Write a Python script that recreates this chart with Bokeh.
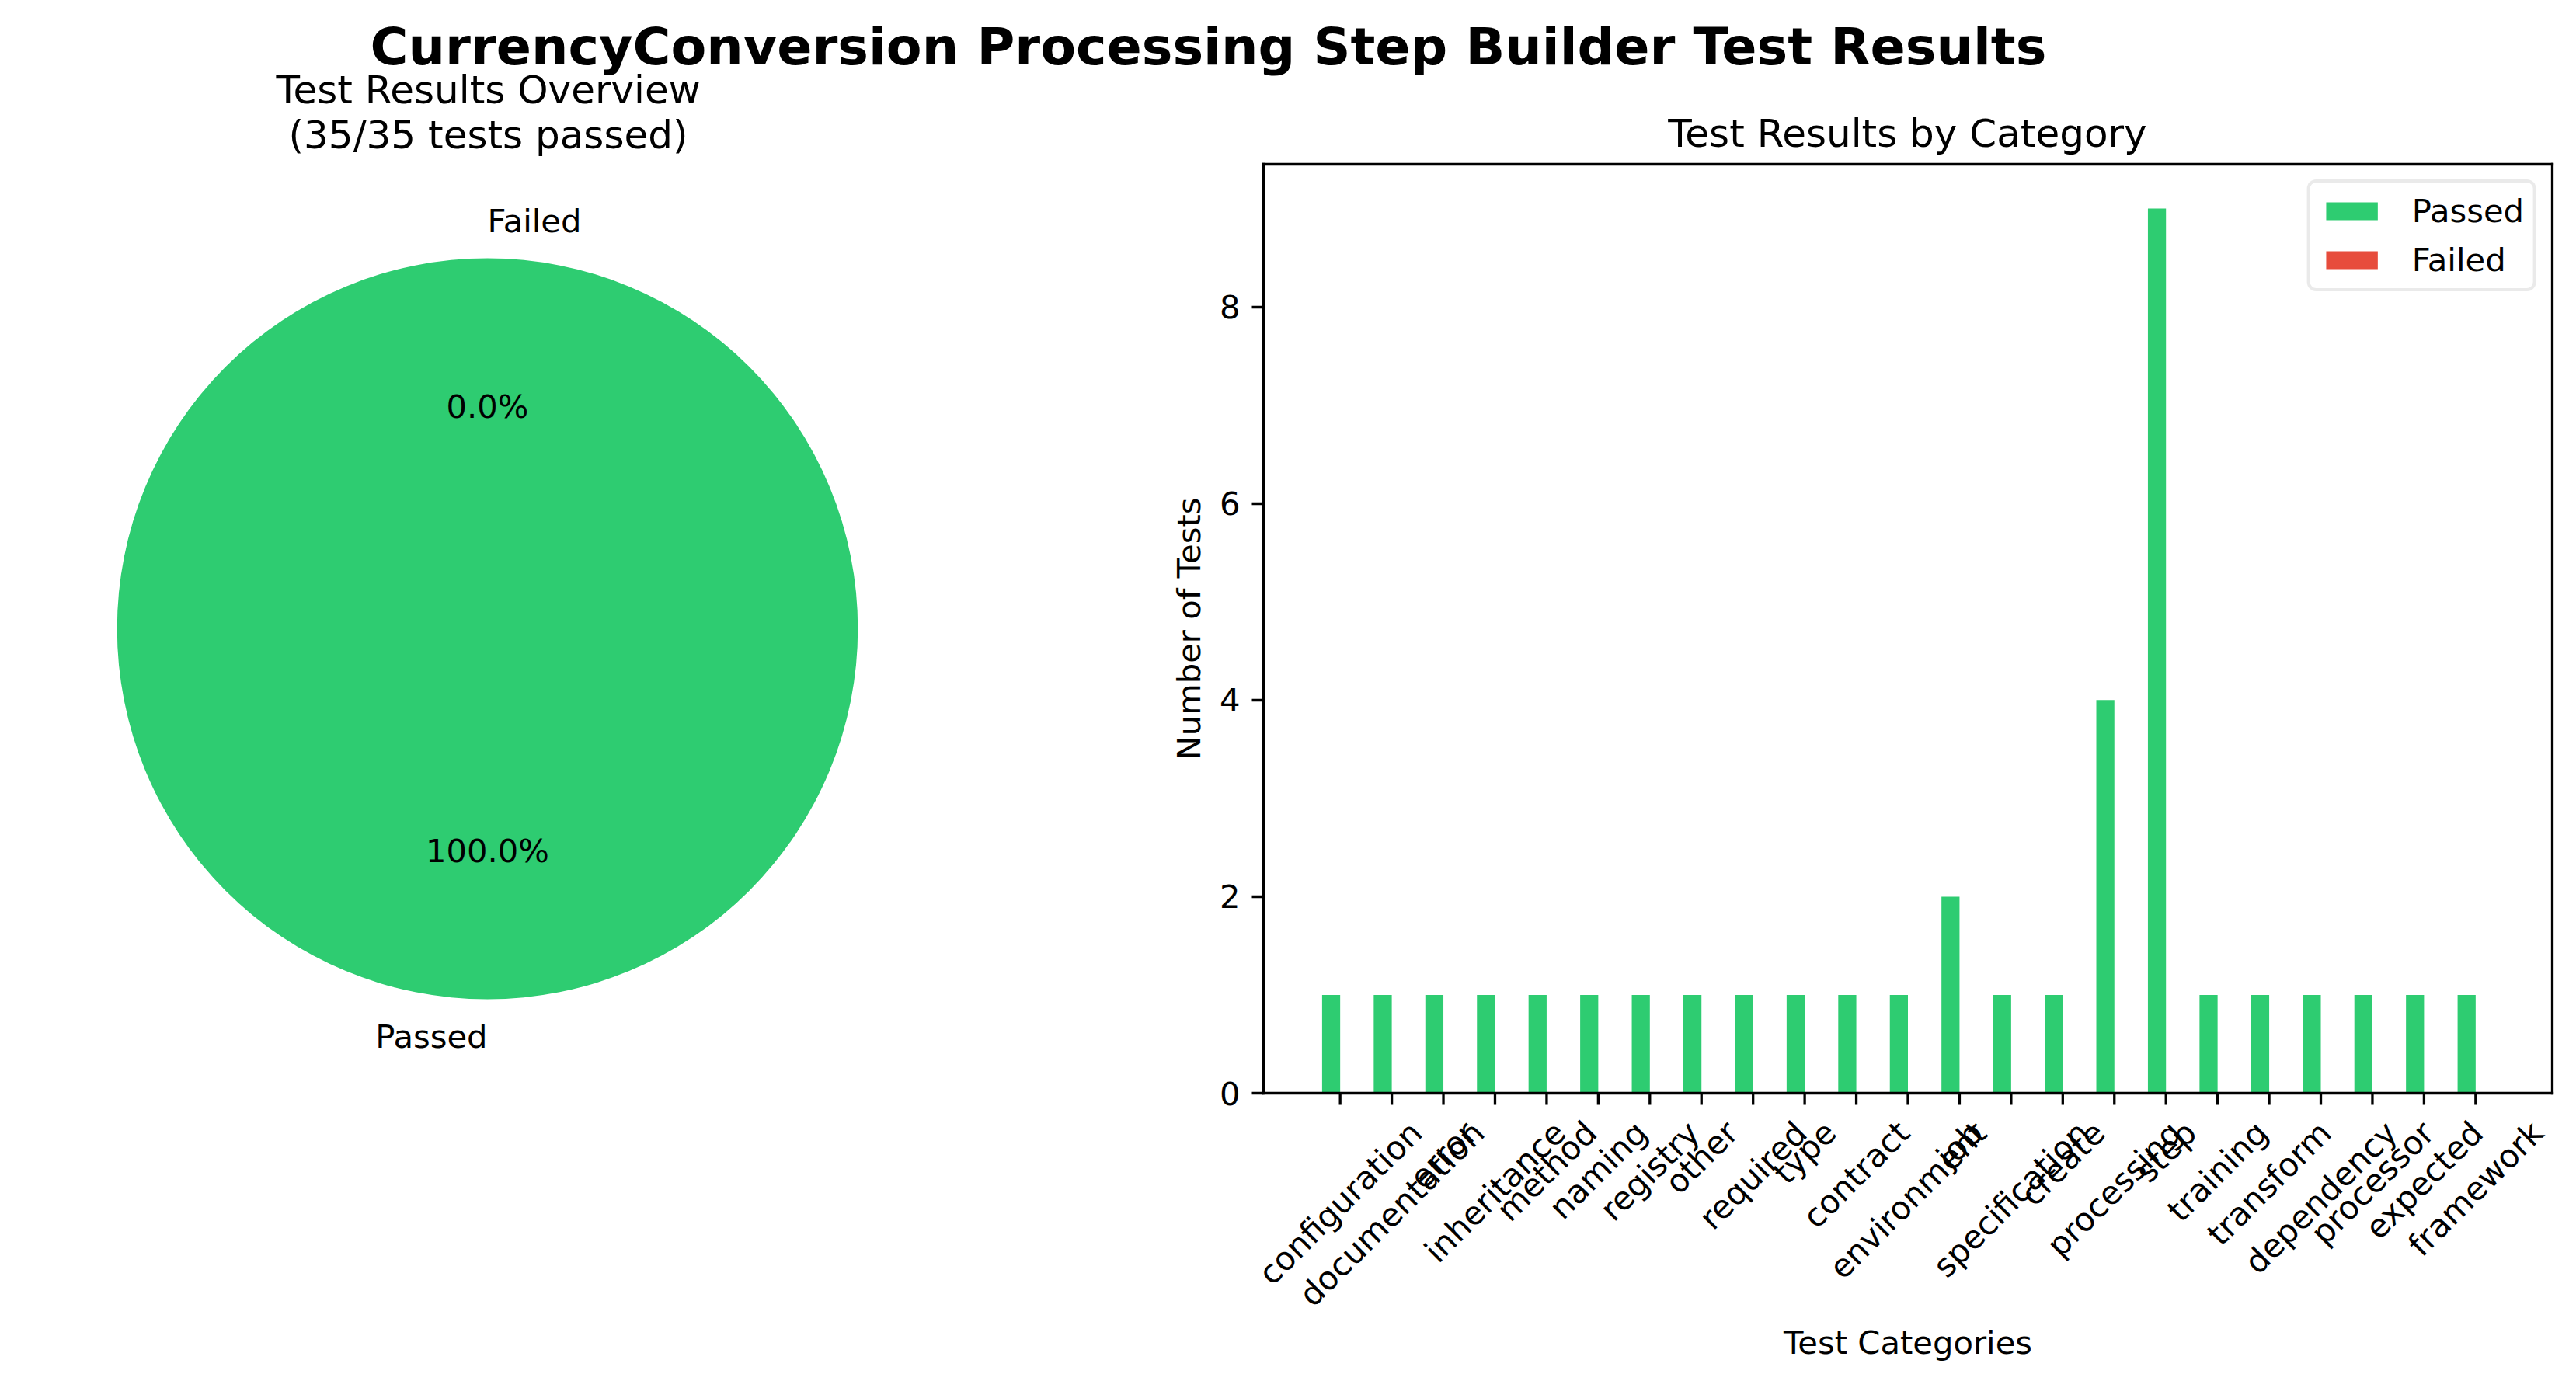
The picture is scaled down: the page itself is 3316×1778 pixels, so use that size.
import math
import numpy as np
from bokeh.plotting import figure
from bokeh.layouts import column, row
from bokeh.models import Range1d, ColumnDataSource, FixedTicker, LinearAxis
from bokeh.core.properties import value
from bokeh.transform import dodge
from bokeh.embed import file_html
from bokeh.resources import INLINE

# ---------------- data ----------------
suptitle = "CurrencyConversion Processing Step Builder Test Results"
pie_title_1 = "Test Results Overview"
pie_title_2 = "(35/35 tests passed)"
bar_title = "Test Results by Category"
x_label = "Test Categories"
y_label = "Number of Tests"
pie_labels = ["Passed", "Failed"]
pie_values = [35, 0]
categories = ["configuration", "documentation", "error", "inheritance", "method",
              "naming", "registry", "other", "required", "type", "contract",
              "environment", "job", "specification", "create", "processing",
              "step", "training", "transform", "dependency", "processor",
              "expected", "framework"]
passed = [1, 1, 1, 1, 1, 1, 1, 1, 1, 1, 1, 1, 2, 1, 1, 4, 9, 1, 1, 1, 1, 1, 1]
failed = [0, 0, 0, 0, 0, 0, 0, 0, 0, 0, 0, 0, 0, 0, 0, 0, 0, 0, 0, 0, 0, 0, 0]
y_ticks = [0, 2, 4, 6, 8]

# ---------------- styles / geometry ----------------
GREEN = "#2ecc71"
RED = "#e74c3c"
FONT = "DejaVu Sans"
FS = 41.7          # 10pt @300dpi
FS_T = 50.0        # 12pt
FS_S = 66.7        # 16pt
MID = 0.276        # baseline -> visual middle, in em
LW = 3.3
W, H = 3316, 1778
EXT = 4
AX_L, AX_R, AX_T, AX_B = 1626, 3285, 211, 1407
TOP_H = AX_T - EXT
W1 = 1300
W2 = W - W1
H2 = H - TOP_H
BAR_LEFT_BORDER = 150


def no_title(p):
    try:
        p.title = None
    except Exception:
        p.title.text = ""
        p.title.text_font_size = "0px"


# ---------------- top strip (titles) ----------------
top = figure(width=W, height=TOP_H, x_range=Range1d(0, W), y_range=Range1d(TOP_H, 0),
             x_axis_type=None, y_axis_type=None, toolbar_location=None,
             output_backend="svg", min_border=0)
no_title(top)
top.outline_line_color = None
top.text(x=[1555], y=[78 - MID * FS_S], text=[suptitle], text_font=value(FONT),
         text_font_size=f"{FS_S}px", text_font_style="bold", text_align="center",
         text_baseline="middle", text_color="black")
top.text(x=[628, 628], y=[129 - MID * FS_T, 187 - MID * FS_T],
         text=[pie_title_1, pie_title_2], text_font=value(FONT),
         text_font_size=f"{FS_T}px", text_align="center", text_baseline="middle",
         text_color="black")
top.text(x=[2455], y=[185 - MID * FS_T], text=[bar_title], text_font=value(FONT),
         text_font_size=f"{FS_T}px", text_align="center", text_baseline="middle",
         text_color="black")

# frame of both lower plots: from just above the axes box down to the window bottom
FR_T = TOP_H
FR_H = H - FR_T

# ---------------- pie ----------------
R_PX = 477.0
CX, CY = 627.0, 809.0 - FR_T
pie = figure(width=W1, height=H2,
             x_range=Range1d(-CX / R_PX, (W1 - CX) / R_PX),
             y_range=Range1d(-(FR_H - CY) / R_PX, CY / R_PX),
             x_axis_type=None, y_axis_type=None, toolbar_location=None,
             output_backend="svg", min_border=0)
no_title(pie)
pie.outline_line_color = None

vals = np.array(pie_values, dtype=float)
frac = vals / vals.sum()
cum = np.concatenate([[0.0], np.cumsum(frac)])
starts = math.pi / 2 + 2 * math.pi * cum[:-1]
ends = math.pi / 2 + 2 * math.pi * cum[1:]
colors = [GREEN, RED]
keep = [i for i in range(len(vals)) if vals[i] > 0]
pie.wedge(x=0, y=0, radius=1.0,
          start_angle=[starts[i] for i in keep], end_angle=[ends[i] for i in keep],
          fill_color=[colors[i] for i in keep], line_color=None)
for lab, s, e, f in zip(pie_labels, starts, ends, frac):
    mid = (s + e) / 2
    xt, yt = 1.1 * math.cos(mid), 1.1 * math.sin(mid)
    pie.text(x=[xt], y=[yt], text=[lab], text_font=value(FONT), text_font_size=f"{FS}px",
             text_align="left" if xt > 0 else "right", text_baseline="middle",
             text_color="black")
    xp, yp = 0.6 * math.cos(mid), 0.6 * math.sin(mid)
    pie.text(x=[xp], y=[yp], text=[f"{f * 100:.1f}%"], text_font=value(FONT),
             text_font_size=f"{FS}px", text_align="center", text_baseline="middle",
             text_color="black")

# ---------------- bars ----------------
n = len(categories)
bar_w = 0.35
lo, hi = -bar_w, (n - 1) + bar_w
span = hi - lo
x0, x1 = lo - 0.05 * span, hi + 0.05 * span
y0, y1 = 0.0, max(passed) * 1.05
ppx = (AX_R - AX_L) / (x1 - x0)
ppy = (AX_B - AX_T) / (y1 - y0)
FR_L = W1 + BAR_LEFT_BORDER

bar = figure(width=W2, height=H2,
             x_range=Range1d(x0 - (AX_L - FR_L) / ppx, x1 + EXT / ppx),
             y_range=Range1d(y0 - (H - AX_B) / ppy, y1 + EXT / ppy),
             x_axis_type=None, y_axis_location=None, toolbar_location=None,
             output_backend="svg", min_border=0)
no_title(bar)
bar.min_border_left = BAR_LEFT_BORDER
bar.min_border_right = W - AX_R - EXT
bar.min_border_top = 0
bar.min_border_bottom = 0
bar.xgrid.visible = False
bar.ygrid.visible = False
bar.outline_line_color = None

src = ColumnDataSource(dict(idx=list(range(n)), passed=passed, failed=failed))
bar.vbar(x=dodge("idx", -bar_w / 2), top="passed", width=bar_w, fill_color=GREEN,
         line_color=None, legend_label="Passed", source=src)
bar.vbar(x=dodge("idx", bar_w / 2), top="failed", width=bar_w, fill_color=RED,
         line_color=None, legend_label="Failed", source=src)

# spines (bottom, right, top)
bar.segment(x0=[x0, x1, x0], y0=[y0, y0, y1], x1=[x1, x1, x1], y1=[y0, y1, y1],
            line_color="black", line_width=LW, line_cap="square")
# x ticks
bar.ray(x="idx", y=0, length=15, length_units="screen", angle=-math.pi / 2,
        line_color="black", line_width=LW, source=src)

# y axis, pinned to the left edge of the axes box
ax = LinearAxis(fixed_location=x0, bounds=(y0, y1), ticker=FixedTicker(ticks=y_ticks))
ax.axis_line_color = "black"
ax.axis_line_width = LW
ax.axis_line_cap = "square"
ax.major_tick_line_color = "black"
ax.major_tick_line_width = LW
ax.major_tick_out = 15
ax.major_tick_in = 0
ax.minor_tick_line_color = None
ax.major_label_text_font = FONT
ax.major_label_text_font_size = f"{FS}px"
ax.major_label_text_color = "black"
ax.major_label_standoff = 15
bar.add_layout(ax, "left")

bar.text(x=[x0 - (AX_L - 1530) / ppx], y=[(y0 + y1) / 2], text=[y_label], angle=math.pi / 2,
         text_align="center", text_baseline="middle", text_font=value(FONT),
         text_font_size=f"{FS}px", text_color="black")

# rotated category labels, bbox centred under each tick (like rotation=45)
ADV = {'a': 1255, 'b': 1300, 'c': 1126, 'd': 1300, 'e': 1260, 'f': 721, 'g': 1300,
       'h': 1298, 'i': 569, 'j': 569, 'k': 1186, 'l': 569, 'm': 1995, 'n': 1298,
       'o': 1253, 'p': 1300, 'q': 1300, 'r': 842, 's': 1067, 't': 803, 'u': 1298,
       'v': 1212, 'w': 1675, 'x': 1212, 'y': 1212, 'z': 1075}


def text_w(s, size):
    return sum(ADV.get(c, 1200) for c in s) / 2048.0 * size


s45 = math.sin(math.pi / 4)
lab_y = []
for name in categories:
    half = (text_w(name, FS) + 0.968 * FS) * s45 / 2
    lab_y.append(-(29.2 + half) / ppy)
lab_src = ColumnDataSource(dict(idx=list(range(n)), ly=lab_y, cat=categories))
bar.text(x="idx", y="ly", text="cat", angle=math.pi / 4, text_align="center",
         text_baseline="middle", text_font=value(FONT), text_font_size=f"{FS}px",
         text_color="black", source=lab_src)

bar.text(x=[(x0 + x1) / 2], y=[-(1740 - MID * FS - AX_B) / ppy], text=[x_label],
         text_align="center", text_baseline="middle", text_font=value(FONT),
         text_font_size=f"{FS}px", text_color="black")

lg = bar.legend[0]
lg.location = "top_right"
lg.margin = 20 + EXT
lg.padding = 12
lg.spacing = 14
lg.glyph_width = 83
lg.glyph_height = 29
lg.label_height = 48
lg.label_standoff = 36
lg.label_text_font = FONT
lg.label_text_font_size = f"{FS}px"
lg.label_text_color = "black"
lg.border_line_color = "#d6d6d6"
lg.border_line_width = 4
lg.background_fill_color = "white"
lg.background_fill_alpha = 1.0
try:
    lg.border_radius = 12
except Exception:
    pass

layout = column(top, row(pie, bar))
open("out.html", "w").write(file_html(layout, INLINE))
